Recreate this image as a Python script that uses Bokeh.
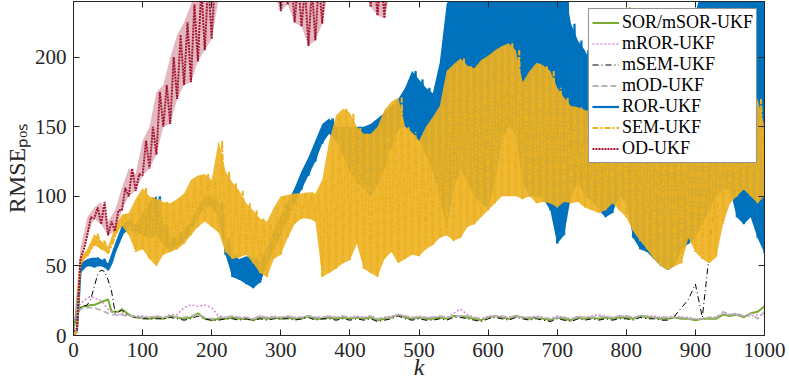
from bokeh.plotting import figure
from bokeh.models import Range1d, LinearAxis, Legend, LegendItem, FixedTicker
from bokeh.embed import file_html
from bokeh.resources import INLINE

# ---------------- data ----------------
k_env = list(range(0, 1001, 10))

ror_lo = [0, 45, 50, 49, 50, 47, 60, 72, 76, 74,
          72, 70, 72, 65, 61, 64, 68, 75, 85, 92,
          93, 85, 58, 42, 40, 37, 34, 38, 50, 62,
          72, 84, 95, 105, 115, 125, 138, 145, 140, 130,
          118, 110, 106, 100, 108, 120, 135, 148, 150, 145,
          140, 130, 118, 100, 78, 105, 120, 110, 100, 95,
          91, 110, 140, 150, 145, 110, 100, 100, 98, 90,
          66, 72, 100, 110, 100, 97, 90, 85, 88, 100,
          95, 70, 62, 60, 55, 50, 47, 50, 62, 66,
          70, 80, 90, 100, 105, 105, 85, 80, 85, 70,
          59]
ror_hi = [3, 52, 55, 56, 55, 52, 66, 79, 83, 80,
          88, 96, 100, 80, 70, 72, 76, 82, 92, 100,
          100, 96, 70, 58, 55, 57, 56, 53, 63, 76,
          86, 96, 106, 118, 128, 140, 152, 156, 150, 150,
          150, 150, 150, 152, 156, 160, 165, 170, 178, 190,
          184, 178, 174, 196, 238, 250, 250, 250, 250, 250,
          250, 250, 250, 250, 250, 250, 250, 250, 250, 250,
          250, 250, 224, 212, 205, 195, 190, 192, 195, 200,
          200, 200, 205, 205, 210, 205, 210, 215, 220, 225,
          232, 250, 250, 250, 250, 250, 250, 250, 250, 250,
          250]

sem_lo = [0, 51, 57, 65, 62, 59, 71, 79, 72, 60,
          62, 55, 50, 58, 60, 62, 66, 72, 78, 82,
          78, 74, 60, 55, 56, 58, 52, 45, 42, 55,
          58, 70, 80, 84, 84, 82, 42, 45, 48, 52,
          54, 66, 48, 45, 42, 55, 60, 52, 55, 58,
          57, 62, 65, 70, 72, 68, 70, 78, 80, 85,
          90, 95, 100, 100, 100, 98, 100, 95, 96, 95,
          92, 96, 95, 96, 92, 90, 88, 90, 95, 90,
          85, 75, 68, 62, 55, 50, 47, 50, 52, 70,
          60, 55, 52, 56, 80, 95, 100, 105, 100, 95,
          100]
sem_hi = [3, 56, 62, 73, 68, 64, 78, 87, 88, 98,
          106, 100, 98, 96, 95, 98, 102, 112, 115, 116,
          112, 140, 118, 110, 104, 95, 90, 84, 82, 92,
          100, 101, 102, 102, 103, 102, 112, 140, 158, 163,
          160, 150, 145, 145, 150, 162, 168, 171, 150, 146,
          140, 150, 157, 165, 190, 195, 199, 194, 192, 198,
          201, 205, 208, 210, 205, 182, 190, 196, 194, 190,
          178, 171, 165, 164, 162, 160, 158, 160, 165, 170,
          236, 170, 165, 160, 155, 150, 145, 150, 150, 155,
          150, 150, 150, 145, 150, 150, 155, 160, 165, 170,
          150]

k_od = list(range(0, 471, 10))
od_lo = [3, 55, 72, 84, 80, 72, 75, 90, 100, 104,
         115, 120, 130, 150, 152, 170, 180, 182, 197, 205,
         213, 242, 250, 255, 255, 258, 258, 255, 250, 245,
         233, 238, 225, 222, 208, 212, 224, 250, 255, 258,
         258, 255, 250, 236, 230, 228, 250, 255]
od_hi = [5, 62, 85, 92, 96, 82, 90, 106, 120, 116,
         140, 150, 175, 180, 200, 216, 225, 238, 250, 255,
         260, 270, 275, 280, 280, 280, 280, 280, 275, 270,
         260, 260, 255, 250, 250, 255, 260, 270, 280, 280,
         280, 280, 275, 260, 260, 260, 270, 280]

k_low = [0, 5, 10, 15, 20, 25, 30, 35, 40, 45, 50, 55, 60, 65, 70, 75, 80] + list(range(90, 1001, 10))

sor = [5, 15, 20, 21, 21, 22, 22, 23, 24, 25, 26, 17, 17, 17, 19, 17, 15,
       13, 13, 12, 13, 12, 14, 13, 12, 13, 16, 12, 11, 12, 12, 13, 12, 12, 11, 13, 12,
       13, 12, 13, 12, 12, 14, 12, 12, 13, 12, 13, 12, 13, 12, 13, 11, 12, 13, 15, 13,
       12, 13, 12, 12, 13, 12, 14, 14, 13, 12, 11, 13, 14, 13, 12, 14, 13, 12, 13, 12,
       11, 13, 12, 11, 13, 12, 13, 12, 13, 12, 13, 13, 12, 14, 13, 13, 12, 12, 13, 12,
       12, 11, 12, 12, 12, 15, 14, 15, 13, 16, 17, 21]
mror = [5, 18, 23, 25, 27, 28, 27, 26, 25, 22, 19, 17, 16, 15, 16, 15, 14,
        14, 14, 13, 14, 13, 15, 15, 20, 22, 21, 22, 20, 14, 13, 14, 13, 13, 12, 14, 13,
        14, 13, 14, 13, 13, 14, 13, 13, 14, 13, 14, 13, 14, 13, 14, 12, 13, 14, 15, 14,
        13, 14, 13, 13, 14, 13, 16, 19, 15, 13, 12, 14, 14, 13, 13, 14, 13, 13, 14, 13,
        12, 14, 13, 12, 14, 13, 14, 15, 14, 13, 14, 14, 13, 14, 14, 14, 13, 13, 14, 13,
        13, 12, 12, 13, 13, 16, 15, 15, 14, 14, 15, 14]
msem = [5, 15, 20, 21, 22, 26, 35, 44, 47, 46, 40, 32, 17, 17, 18, 16, 14,
        13, 12, 12, 12, 12, 13, 12, 11, 12, 14, 12, 11, 11, 12, 12, 11, 12, 11, 12, 11,
        12, 12, 12, 11, 12, 13, 11, 12, 12, 11, 12, 11, 12, 11, 12, 10, 11, 12, 14, 12,
        11, 12, 11, 11, 12, 11, 13, 13, 12, 11, 10, 12, 13, 12, 11, 13, 12, 11, 12, 11,
        10, 12, 11, 10, 12, 11, 12, 11, 12, 11, 12, 12, 11, 13, 12, 12, 11, 11, 14, 20,
        26, 37, 13, 58, 105, 130, 135, 140, 145, 150, 150, 150]
mod = [5, 15, 19, 20, 20, 20, 20, 19, 18, 17, 16, 15, 15, 14, 15, 14, 14,
       14, 13, 13, 14, 13, 14, 13, 13, 14, 15, 13, 12, 13, 13, 14, 13, 13, 12, 14, 13,
       13, 13, 14, 13, 13, 14, 13, 13, 14, 13, 14, 13, 13, 13, 14, 12, 13, 13, 15, 14,
       13, 13, 13, 13, 14, 13, 14, 14, 14, 13, 12, 13, 14, 14, 13, 14, 13, 13, 13, 13,
       12, 13, 13, 12, 13, 13, 13, 14, 13, 13, 14, 14, 13, 14, 14, 13, 13, 13, 13, 13,
       12, 12, 12, 13, 13, 17, 15, 16, 14, 16, 12, 17]

x_ticks = [0, 100, 200, 300, 400, 500, 600, 700, 800, 900, 1000]
y_ticks = [0, 50, 100, 150, 200]
labels = ["SOR/mSOR-UKF", "mROR-UKF", "mSEM-UKF", "mOD-UKF", "ROR-UKF", "SEM-UKF", "OD-UKF"]
x_title = "k"
y_title = "RMSE\u209a\u2092\u209b"

# ---------------- styling ----------------
C_GREEN = "#77AC30"
C_PINK = "#DA8FDA"
C_BLACK = "#000000"
C_GRAY = "#B4B4B4"
C_BLUE = "#0072BD"
C_YELLOW = "#EDB120"
C_RED = "#A2142F"
FONT = "Liberation Serif"
AX = "#262626"


def zig(k, lo, hi):
    xs, ys = [], []
    for i in range(len(k)):
        xs.append(k[i]); ys.append(lo[i])
        if i < len(k) - 1:
            xs.append((k[i] + k[i + 1]) / 2); ys.append(hi[i])
    return xs, ys


p = figure(width=789, height=387, output_backend="svg", toolbar_location=None,
           x_range=Range1d(0, 1000), y_range=Range1d(0, 240),
           min_border_left=72, min_border_right=25, min_border_top=1, min_border_bottom=52,
           background_fill_color="white", border_fill_color="white")
p.grid.visible = False
p.outline_line_color = AX
p.outline_line_width = 1

for ax in (p.xaxis[0], p.yaxis[0]):
    ax.axis_line_color = AX
    ax.major_tick_line_color = AX
    ax.major_tick_in = 6
    ax.major_tick_out = 0
    ax.minor_tick_line_color = None
    ax.major_label_text_font = FONT
    ax.major_label_text_font_size = "21px"
    ax.major_label_text_color = AX
    ax.major_label_standoff = 7
    ax.axis_label_text_font = FONT
    ax.axis_label_text_color = AX
p.xaxis[0].ticker = FixedTicker(ticks=x_ticks)
p.yaxis[0].ticker = FixedTicker(ticks=y_ticks)
p.xaxis[0].axis_label = x_title
p.xaxis[0].axis_label_text_font_style = "italic"
p.xaxis[0].axis_label_text_font_size = "24px"
p.xaxis[0].axis_label_standoff = -6
p.yaxis[0].axis_label = y_title
p.yaxis[0].axis_label_text_font_style = "normal"
p.yaxis[0].axis_label_text_font_size = "24px"
p.yaxis[0].axis_label_standoff = 2

top = LinearAxis(ticker=FixedTicker(ticks=x_ticks), major_label_text_font_size="0px",
                 major_tick_in=6, major_tick_out=0, minor_tick_line_color=None,
                 axis_line_color=AX, major_tick_line_color=AX, major_label_standoff=0)
right = LinearAxis(ticker=FixedTicker(ticks=y_ticks), major_label_text_font_size="0px",
                   major_tick_in=6, major_tick_out=0, minor_tick_line_color=None,
                   axis_line_color=AX, major_tick_line_color=AX, major_label_standoff=0)
p.add_layout(top, "above")
p.add_layout(right, "right")

# low lines
r_sor = p.line(k_low, sor, line_color=C_GREEN, line_width=2)
r_mror = p.line(k_low, mror, line_color=C_PINK, line_width=1.6, line_dash="2 2")
r_msem = p.line(k_low, msem, line_color=C_BLACK, line_width=1, line_dash="6 3 1 3")
r_mod = p.line(k_low, mod, line_color=C_GRAY, line_width=1.8, line_dash="6 3")

# ROR band
p.varea(x=k_env, y1=ror_lo, y2=ror_hi, fill_color=C_BLUE, fill_alpha=1.0)
bx, by = zig(k_env, ror_lo, ror_hi)
r_ror = p.line(bx, by, line_color=C_BLUE, line_width=2.2)

# SEM band
p.varea(x=k_env, y1=sem_lo, y2=sem_hi, fill_color=C_YELLOW, fill_alpha=0.9)
yx, yy = zig(k_env, sem_lo, sem_hi)
r_sem = p.line(yx, yy, line_color=C_YELLOW, line_width=2, line_dash="6 2 2 2")

# OD band
p.varea(x=k_od, y1=od_lo, y2=od_hi, fill_color=C_RED, fill_alpha=0.3)
rx, ry = zig(k_od, od_lo, od_hi)
r_od = p.line(rx, ry, line_color=C_RED, line_width=2, line_dash="2 1")

legend = Legend(items=[LegendItem(label=l, renderers=[r]) for l, r in
                       zip(labels, [r_sor, r_mror, r_msem, r_mod, r_ror, r_sem, r_od])],
                location="top_right")
legend.label_text_font = FONT
legend.label_text_font_size = "18px"
legend.label_text_color = "black"
legend.border_line_color = AX
legend.border_line_width = 1.2
legend.background_fill_alpha = 1
legend.glyph_width = 27
legend.glyph_height = 21
legend.label_height = 21
legend.label_standoff = 3
legend.spacing = 0
legend.padding = 3
legend.margin = 7
p.add_layout(legend)

open("out.html", "w").write(file_html(p, INLINE))
